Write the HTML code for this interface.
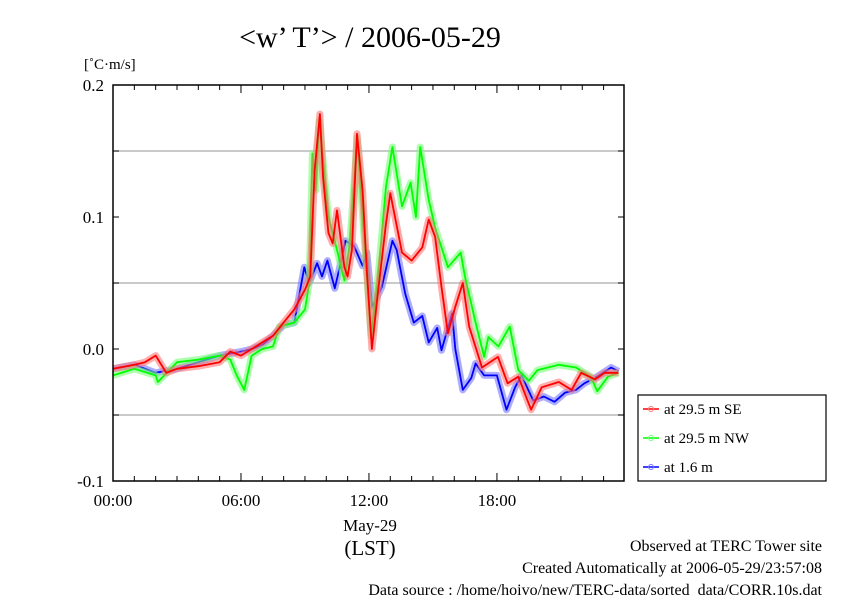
<!DOCTYPE html>
<html><head><meta charset="utf-8"><style>
body{margin:0;background:#fff;}
svg{display:block;font-family:"Liberation Serif",serif;}
</style></head><body>
<svg id="c" width="842" height="595" viewBox="0 0 842 595">
<text x="370" y="47" font-size="30" text-anchor="middle">&lt;w’ T’&gt; / 2006-05-29</text>
<text x="84" y="69" font-size="15">[˚C·m/s]</text>
<g id="grid"></g>
<g id="series"></g>
<rect x="113" y="85" width="511" height="396" fill="none" stroke="#000" stroke-width="1.5"/>
<g id="ticks"></g>
<text x="370" y="531" font-size="17" text-anchor="middle">May-29</text>
<text x="370" y="555" font-size="21" text-anchor="middle">(LST)</text>
<g>
<rect x="638" y="395" width="188" height="86" fill="#fff" stroke="#000" stroke-width="1.2"/>
<g><line x1="643" y1="409" x2="659" y2="409" stroke="#f00" stroke-width="1.5"/><circle cx="651" cy="409" r="2.5" fill="none" stroke="#f77"/><text x="664" y="414" font-size="15">at 29.5 m SE</text></g>
<g><line x1="643" y1="438" x2="659" y2="438" stroke="#0f0" stroke-width="1.5"/><circle cx="651" cy="438" r="2.5" fill="none" stroke="#7f7"/><text x="664" y="443" font-size="15">at 29.5 m NW</text></g>
<g><line x1="643" y1="467" x2="659" y2="467" stroke="#00f" stroke-width="1.5"/><circle cx="651" cy="467" r="2.5" fill="none" stroke="#77f"/><text x="664" y="472" font-size="15">at 1.6 m</text></g>
</g>
<text x="822" y="551" font-size="16" text-anchor="end">Observed at TERC Tower site</text>
<text x="822" y="573" font-size="16" text-anchor="end">Created Automatically at 2006-05-29/23:57:08</text>
<text x="822" y="595" font-size="16" text-anchor="end">Data source : /home/hoivo/new/TERC-data/sorted_data/CORR.10s.dat</text>
</svg>
<script>
const yTicks=[0.2,0.1,0.0,-0.1];
const yTickLabels=["0.2","0.1","0.0","-0.1"];
const yGrid=[0.15,0.05,-0.05];
const xTicks=[0,6,12,18];
const xTickLabels=["00:00","06:00","12:00","18:00"];
const seT=[0,1,1.5,2,2.5,3,4,5,5.5,6,6.5,7,7.5,8,8.5,9,9.25,9.45,9.7,9.85,10.1,10.3,10.5,10.85,11.0,11.2,11.44,11.7,11.9,12.14,12.4,12.8,13.0,13.55,14.0,14.5,14.8,15.1,15.4,15.7,16.05,16.4,16.7,17.3,18.05,18.5,19.0,19.6,20.1,20.9,21.5,21.95,22.6,23.05,23.7];
const seV=[-0.015,-0.012,-0.01,-0.005,-0.018,-0.015,-0.013,-0.01,-0.002,-0.005,0.0,0.005,0.01,0.02,0.03,0.045,0.055,0.135,0.178,0.13,0.088,0.08,0.105,0.062,0.055,0.075,0.163,0.12,0.06,0.0,0.04,0.095,0.118,0.073,0.067,0.077,0.098,0.085,0.047,0.012,0.032,0.05,0.017,-0.014,-0.006,-0.026,-0.021,-0.046,-0.029,-0.025,-0.031,-0.018,-0.023,-0.018,-0.018];
const nwT=[0,1,2,2.1,3,4,5,5.5,5.8,6.15,6.3,6.5,7,7.5,7.8,8.5,9,9.2,9.35,9.5,9.67,10.1,10.5,10.85,11.1,11.45,11.75,12.1,12.4,12.8,13.1,13.55,13.95,14.2,14.4,14.8,15.1,15.7,16.3,16.5,17.0,17.4,17.6,18.07,18.6,19.0,19.5,19.9,20.9,21.7,22.4,22.7,23.2,23.7];
const nwV=[-0.02,-0.015,-0.02,-0.025,-0.01,-0.008,-0.005,-0.008,-0.02,-0.031,-0.02,-0.005,0.0,0.002,0.017,0.02,0.03,0.05,0.148,0.12,0.173,0.1,0.075,0.052,0.08,0.16,0.09,0.01,0.05,0.123,0.153,0.108,0.126,0.1,0.153,0.113,0.092,0.062,0.073,0.055,0.02,-0.006,0.009,0.002,0.017,-0.016,-0.024,-0.016,-0.012,-0.014,-0.021,-0.032,-0.021,-0.018];
const blT=[0,1,2,3,4,5,6,6.5,7,7.5,8,8.5,8.97,9.2,9.57,9.8,10.05,10.4,10.6,10.9,11.3,11.7,11.9,12.15,12.6,13.1,13.3,13.7,14.1,14.5,14.8,15.2,15.4,15.9,16.05,16.4,16.8,17.0,17.4,18.0,18.45,18.85,19.15,19.7,20.2,20.7,21.2,21.7,22.1,22.7,23.35,23.7];
const blV=[-0.015,-0.012,-0.018,-0.015,-0.01,-0.005,-0.002,0.0,0.003,0.01,0.018,0.02,0.062,0.05,0.065,0.055,0.067,0.046,0.06,0.082,0.078,0.063,0.073,0.032,0.047,0.082,0.075,0.042,0.02,0.025,0.005,0.016,-0.001,0.027,0.0,-0.031,-0.022,-0.011,-0.02,-0.02,-0.046,-0.029,-0.02,-0.039,-0.036,-0.04,-0.033,-0.031,-0.026,-0.021,-0.014,-0.017];
const X=h=>113+h*21.33;
const Y=v=>349-v*1320;
const NS="http://www.w3.org/2000/svg";
const grid=document.getElementById('grid'),ticks=document.getElementById('ticks'),ser=document.getElementById('series');
function mk(tag,attrs,parent){const e=document.createElementNS(NS,tag);for(const k in attrs)e.setAttribute(k,attrs[k]);parent.appendChild(e);return e;}
yGrid.forEach(v=>{const l=mk('line',{x1:113,x2:624,y1:Y(v),y2:Y(v),stroke:'#aaa','stroke-width':1.2},grid);

});
for(let v=-0.1;v<=0.2001;v+=0.05){[[113,119],[618,624]].forEach(p=>{const l=mk('line',{x1:p[0],x2:p[1],y1:Y(v),y2:Y(v),stroke:'#000'},ticks);

});}
for(let h=1;h<24;h++){const len=h%6==0?8:5;[[85,85+len],[481,481-len]].forEach(p=>{const l=mk('line',{x1:X(h),x2:X(h),y1:p[0],y2:p[1],stroke:'#000'},ticks);

});}
yTicks.forEach((v,i)=>{const t=mk('text',{x:104,y:Y(v)+6,'font-size':17,'text-anchor':'end'},ticks);t.textContent=yTickLabels[i];

});
xTicks.forEach((h,i)=>{const t=mk('text',{x:X(h),y:506,'font-size':17,'text-anchor':'middle'},ticks);t.textContent=xTickLabels[i];

});
function draw(T,V,col,light,name){const g=mk('g',{},ser);


const d=T.map((h,i)=>(i?'L':'M')+X(h).toFixed(1)+','+Y(V[i]).toFixed(1)).join('');
mk('path',{d:d,fill:'none',stroke:light,'stroke-width':7,'stroke-linejoin':'round','stroke-opacity':0.6},g);
mk('path',{d:d,fill:'none',stroke:col,'stroke-width':1.8,'stroke-linejoin':'round'},g);}
draw(blT,blV,'#00f','#7777ff','series-1-6m');
draw(nwT,nwV,'#0f0','#77ff77','series-29-5m-nw');
draw(seT,seV,'#f00','#ff7777','series-29-5m-se');
</script>
</body></html>
